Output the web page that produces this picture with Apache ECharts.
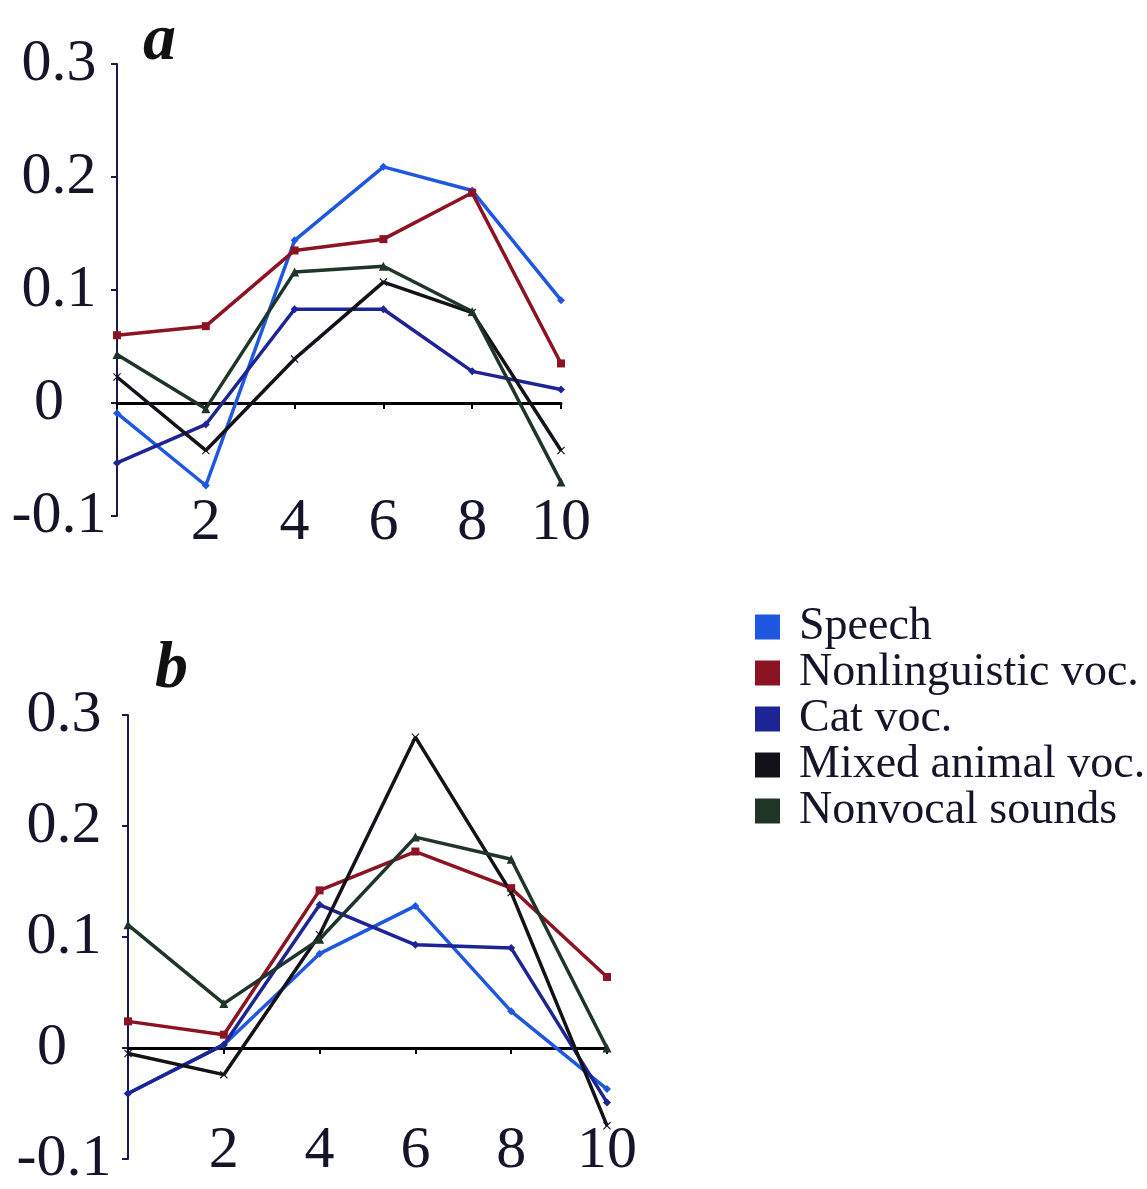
<!DOCTYPE html>
<html>
<head>
<meta charset="utf-8">
<script src="https://cdn.jsdelivr.net/npm/echarts@6/dist/echarts.min.js"></script>
<style>
html,body{margin:0;padding:0;background:#fff;}
#c{width:1147px;height:1189px;}
</style>
</head>
<body>
<div id="c"></div>
<script>
// ---- data ----
const xValues = [0, 2, 4, 6, 8, 10];
const seriesNames = ['Speech', 'Nonlinguistic voc.', 'Cat voc.', 'Mixed animal voc.', 'Nonvocal sounds'];
const yTicks = [-0.1, 0, 0.1, 0.2, 0.3];
const xTickLabels = ['', '2', '4', '6', '8', '10'];

// panel a
const speechA    = [-0.009, -0.073, 0.144, 0.209, 0.188, 0.091];
const nonlingA   = [0.060, 0.068, 0.135, 0.145, 0.186, 0.035];
const catA       = [-0.053, -0.019, 0.083, 0.083, 0.028, 0.012];
const mixedA     = [0.023, -0.042, 0.039, 0.107, 0.080, -0.042];
const nonvocalA  = [0.043, -0.005, 0.116, 0.121, 0.081, -0.070];

// panel b
const speechB    = [-0.041, 0.003, 0.085, 0.128, 0.033, -0.037];
const nonlingB   = [0.024, 0.012, 0.142, 0.177, 0.144, 0.064];
const catB       = [-0.041, 0.003, 0.129, 0.093, 0.090, -0.049];
const mixedB     = [-0.005, -0.024, 0.102, 0.280, 0.140, -0.070];
const nonvocalB  = [0.111, 0.040, 0.098, 0.190, 0.170, 0.000];

// ---- styles ----
const colors = ['#1f58e0', '#8c1322', '#1c2496', '#121218', '#1f3527'];
const xMark = 'path://M0,1 L1,0 L5,4 L9,0 L10,1 L6,5 L10,9 L9,10 L5,6 L1,10 L0,9 L4,5 Z';
const symbols = ['diamond', 'rect', 'diamond', xMark, 'triangle'];
const symbolSizes = [8, 8, 8, 8, 9];
const FONT = "'Liberation Serif', 'Times New Roman', serif";
const TXT = '#15152a';

const panelA = [speechA, nonlingA, catA, mixedA, nonvocalA];
const panelB = [speechB, nonlingB, catB, mixedB, nonvocalB];

function pairs(vals) { return xValues.map((x, i) => [x, vals[i]]); }

const grids = [
  { left: 117, width: 444, top: 64, height: 452 },
  { left: 128, width: 479, top: 715, height: 461 }
];

const xAxes = [], yAxes = [];
[0, 1].forEach(g => {
  xAxes.push({
    type: 'value', gridIndex: g, min: 0, max: 10, interval: 2, position: 'bottom',
    axisLine: { show: true, onZero: true, lineStyle: { color: '#000', width: 3 } },
    axisTick: { show: true, length: 6, lineStyle: { color: '#000', width: 2 } },
    axisLabel: { show: false }, splitLine: { show: false }
  });
  xAxes.push({
    type: 'value', gridIndex: g, min: 0, max: 10, interval: 2, position: 'bottom',
    axisLine: { show: false, onZero: false }, axisTick: { show: false },
    splitLine: { show: false },
    axisLabel: {
      show: true, margin: g === 0 ? -23 : -38,
      fontFamily: FONT, fontSize: 60, color: TXT,
      formatter: v => xTickLabels[xValues.indexOf(v)] || ''
    }
  });
  yAxes.push({
    type: 'value', gridIndex: g, min: -0.1, max: 0.3, interval: 0.1, position: 'left',
    axisLine: { show: true, onZero: false, lineStyle: { color: '#1a1a4a', width: 2 } },
    axisTick: { show: true, length: 6, lineStyle: { color: '#1a1a4a', width: 2 } },
    splitLine: { show: false },
    axisLabel: {
      show: true, align: 'center', margin: g === 0 ? 58 : 64,
      fontFamily: FONT, fontSize: 60, color: TXT,
      rich: {
        n: { fontFamily: FONT, fontSize: 60, color: TXT },
        z: { fontFamily: FONT, fontSize: 60, color: TXT, padding: [0, g === 0 ? 20 : 24, 0, 0] }
      },
      formatter: v => {
        const t = yTicks.find(k => Math.abs(k - v) < 1e-9);
        if (t === undefined) return '';
        return Math.abs(t) < 1e-9 ? '{z|0}' : '{n|' + t.toFixed(1) + '}';
      }
    }
  });
});

const series = [];
[panelA, panelB].forEach((panel, g) => {
  panel.forEach((vals, i) => {
    series.push({
      name: seriesNames[i], type: 'line',
      xAxisIndex: g * 2, yAxisIndex: g,
      data: pairs(vals),
      symbol: symbols[i], symbolSize: symbolSizes[i], showSymbol: true,
      lineStyle: { color: colors[i], width: 3.5 },
      itemStyle: { color: colors[i] },
      z: 3, animation: false
    });
  });
});

const chart = echarts.init(document.getElementById('c'), null, { renderer: 'canvas' });
chart.setOption({
  backgroundColor: '#fff',
  animation: false,
  title: [
    { text: 'a', left: 138, top: 4, textStyle: { fontFamily: FONT, fontSize: 66, fontStyle: 'italic', fontWeight: 'bold', color: '#111' } },
    { text: 'b', left: 150, top: 632, textStyle: { fontFamily: FONT, fontSize: 66, fontStyle: 'italic', fontWeight: 'bold', color: '#111' } }
  ],
  color: colors,
  grid: grids,
  xAxis: xAxes,
  yAxis: yAxes,
  legend: {
    data: seriesNames,
    orient: 'vertical', left: 750, top: 599,
    icon: 'rect', itemWidth: 25, itemHeight: 25, itemGap: 0,
    selectedMode: false,
    formatter: n => '{t|' + n + '}',
    textStyle: {
      fontFamily: FONT, fontSize: 46, color: TXT, lineHeight: 46,
      rich: { t: { fontFamily: FONT, fontSize: 46, color: TXT, lineHeight: 46, padding: [0, 0, 0, 14] } }
    }
  },
  series: series
});
</script>
</body>
</html>
